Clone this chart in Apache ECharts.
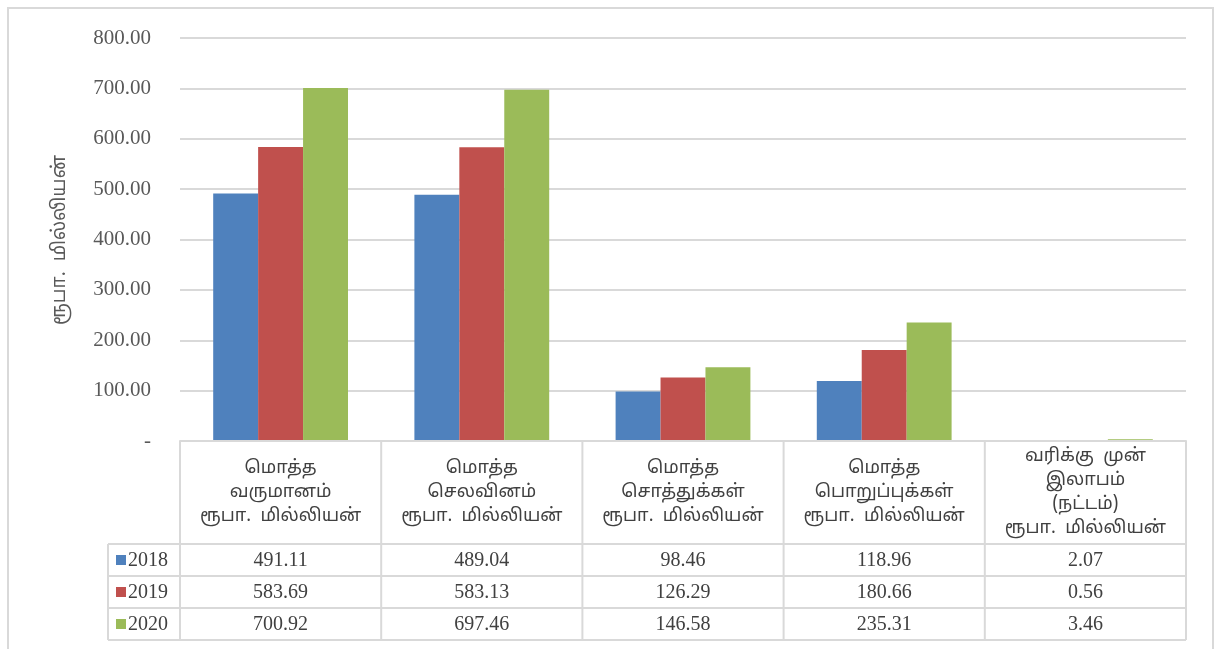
<!DOCTYPE html>
<html>
<head>
<meta charset="utf-8">
<script src="https://cdn.jsdelivr.net/npm/echarts@6/dist/echarts.min.js"></script>
<style>
  html, body { margin: 0; padding: 0; background: #ffffff; }
  #chart { width: 1214px; height: 649px; }
</style>
</head>
<body>
<div id="chart"></div>
<script>
// Financial summary, rupees million
const categories = [
  'மொத்த\nவருமானம்\nரூபா.  மில்லியன்',
  'மொத்த\nசெலவினம்\nரூபா.  மில்லியன்',
  'மொத்த\nசொத்துக்கள்\nரூபா.  மில்லியன்',
  'மொத்த\nபொறுப்புக்கள்\nரூபா.  மில்லியன்',
  'வரிக்கு  முன்\nஇலாபம்\n(நட்டம்)\nரூபா.  மில்லியன்'
];
const years = ['2018', '2019', '2020'];
const values2018 = [491.11, 489.04, 98.46, 118.96, 2.07];
const values2019 = [583.69, 583.13, 126.29, 180.66, 0.56];
const values2020 = [700.92, 697.46, 146.58, 235.31, 3.46];
const yTicks = { min: 0, max: 800, interval: 100 };
const yTitle = 'ரூபா.  மில்லியன்';

const seriesValues = [values2018, values2019, values2020];
const colors = ['#4F81BD', '#C0504D', '#9BBB59'];
const lineColor = '#d9d9d9';
const textColor = '#404040';
const tamilFont = '"Noto Sans Tamil", "Latha", "Lohit Tamil", "Noto Sans", sans-serif';
const serifFont = '"Liberation Serif", "Times New Roman", serif';

// Plot area and data table geometry
const W = 1214, H = 649;
const gridLeft = 180, gridRight = 1186, gridTop = 38, gridBottom = 441;
const headerBottom = 544, rowH = 32, legendLeft = 108;

const chart = echarts.init(document.getElementById('chart'), null, { renderer: 'canvas' });

function buildTable() {
  const els = [];
  const colW = (gridRight - gridLeft) / categories.length;
  const tableBottom = headerBottom + rowH * years.length;
  const line = (x1, y1, x2, y2) => els.push({
    type: 'line', silent: true,
    shape: { x1, y1, x2, y2 },
    style: { stroke: lineColor, lineWidth: 2 }
  });
  // outer frame of the chart
  els.push({
    type: 'rect', silent: true,
    shape: { x: 8, y: 8, width: 1205, height: 660 },
    style: { fill: null, stroke: lineColor, lineWidth: 2 }
  });
  // vertical lines of the header and body
  for (let i = 0; i <= categories.length; i++) {
    const x = gridLeft + i * colW;
    line(x, gridBottom, x, tableBottom);
  }
  line(legendLeft, headerBottom, legendLeft, tableBottom);
  // horizontal lines
  for (let r = 0; r <= years.length; r++) {
    const y = headerBottom + r * rowH;
    line(legendLeft, y, gridRight, y);
  }
  // header cells
  categories.forEach((c, i) => {
    els.push({
      type: 'text', silent: true,
      style: {
        x: gridLeft + (i + 0.5) * colW, y: (gridBottom + headerBottom) / 2 + 1,
        text: c, align: 'center', verticalAlign: 'middle',
        font: '18px ' + tamilFont, lineHeight: 24, fill: textColor
      }
    });
  });
  // value rows with legend keys
  years.forEach((yr, r) => {
    const cy = headerBottom + (r + 0.5) * rowH;
    els.push({
      type: 'rect', silent: true,
      shape: { x: 116, y: cy - 5, width: 10, height: 10 },
      style: { fill: colors[r] }
    });
    els.push({
      type: 'text', silent: true,
      style: {
        x: 128, y: cy + 1, text: yr, align: 'left', verticalAlign: 'middle',
        font: '20px ' + serifFont, fill: textColor
      }
    });
    seriesValues[r].forEach((v, i) => {
      els.push({
        type: 'text', silent: true,
        style: {
          x: gridLeft + (i + 0.5) * colW, y: cy + 1,
          text: v.toFixed(2), align: 'center', verticalAlign: 'middle',
          font: '20px ' + serifFont, fill: textColor
        }
      });
    });
  });
  // rotated axis title
  els.push({
    type: 'text', silent: true,
    x: 61, y: 240, rotation: Math.PI / 2,
    style: {
      x: 0, y: 0, text: yTitle, align: 'center', verticalAlign: 'middle',
      font: '19px ' + tamilFont, fill: '#595959'
    }
  });
  return els;
}

chart.setOption({
  animation: false,
  backgroundColor: '#ffffff',
  grid: {
    left: gridLeft, right: W - gridRight, top: gridTop, bottom: H - gridBottom,
    containLabel: false
  },
  xAxis: {
    type: 'category',
    data: categories,
    z: 5,
    axisLine: { show: true, lineStyle: { color: lineColor, width: 2 } },
    axisTick: { show: false },
    axisLabel: { show: false },
    splitLine: { show: false }
  },
  yAxis: {
    type: 'value',
    min: yTicks.min, max: yTicks.max, interval: yTicks.interval,
    axisLine: { show: false },
    axisTick: { show: false },
    axisLabel: {
      color: '#595959', fontSize: 21, fontFamily: serifFont, margin: 29,
      formatter: v => (v === 0 ? '-' : v.toFixed(2))
    },
    splitLine: { lineStyle: { color: lineColor, width: 2 } }
  },
  series: years.map((yr, k) => ({
    name: yr,
    type: 'bar',
    data: seriesValues[k],
    itemStyle: { color: colors[k] },
    barGap: '0%',
    barCategoryGap: '33%'
  })),
  graphic: buildTable()
});
</script>
</body>
</html>
